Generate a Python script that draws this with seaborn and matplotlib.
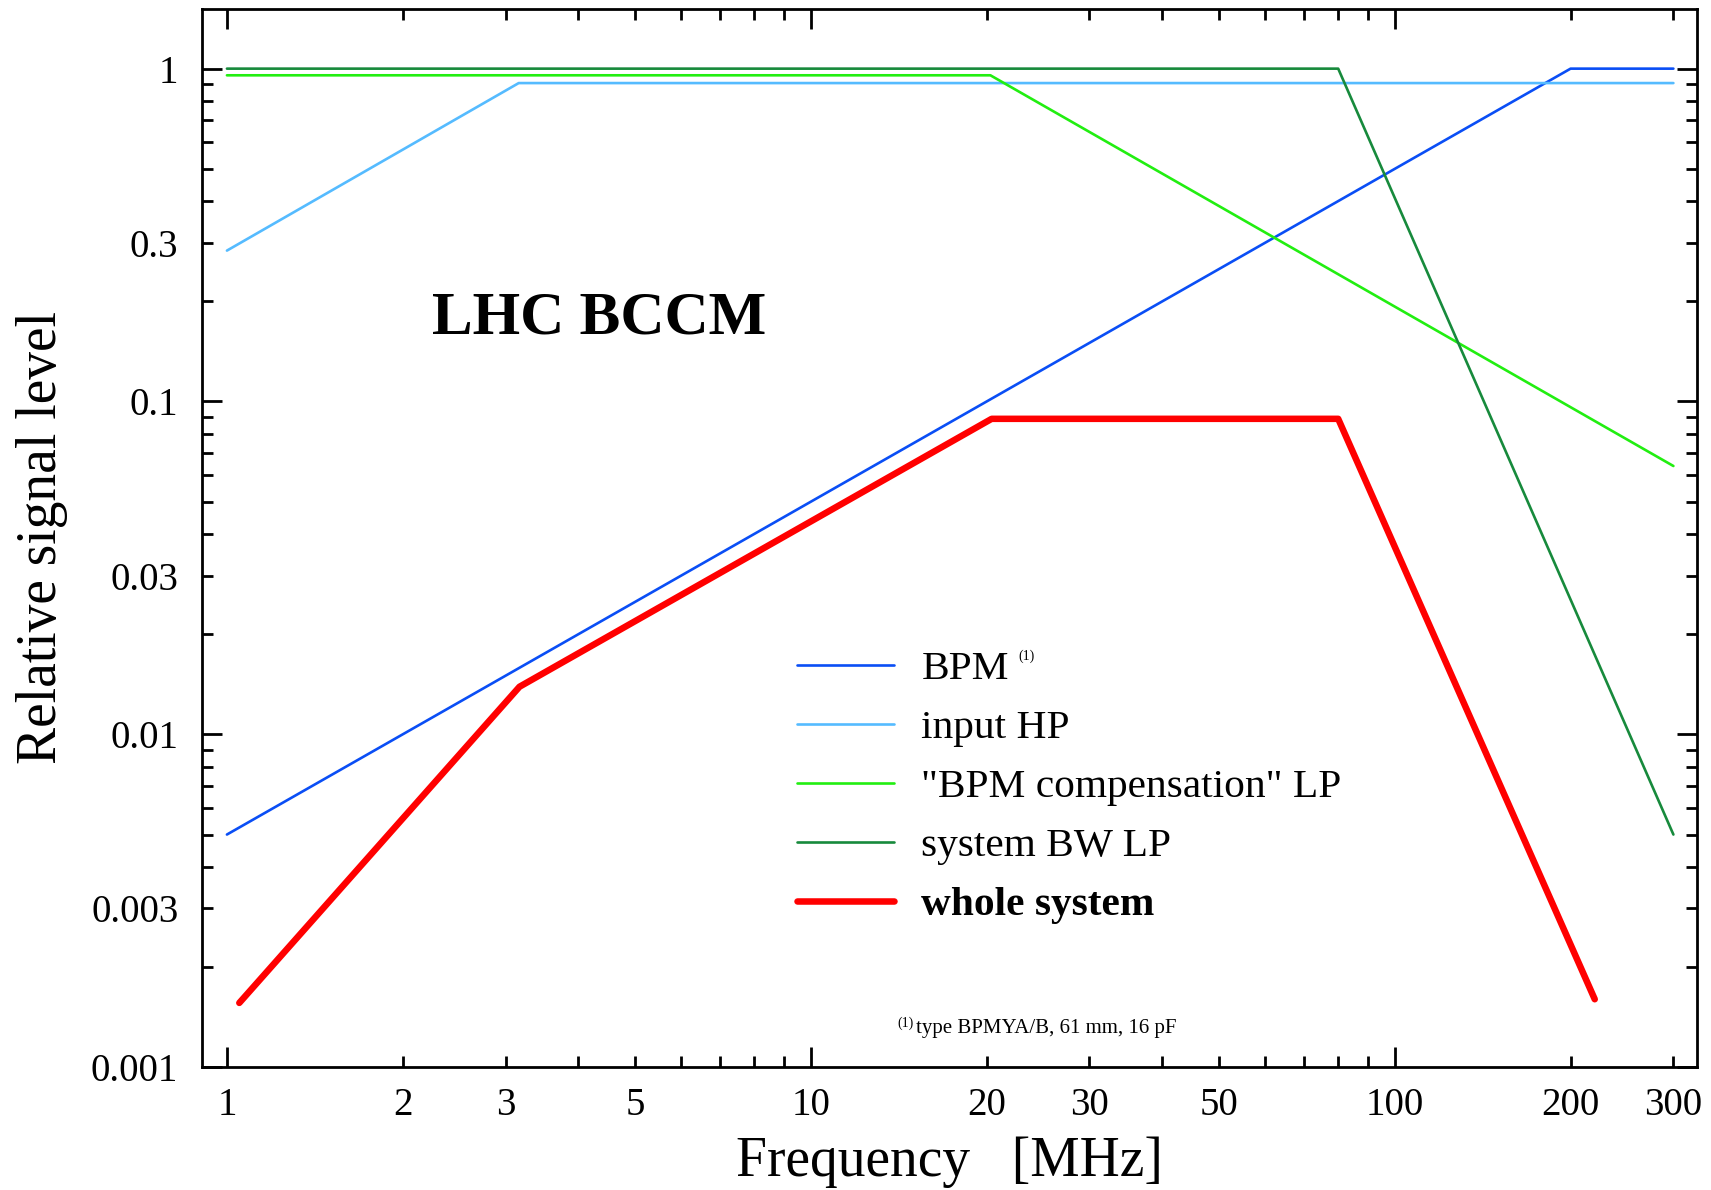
import matplotlib
matplotlib.use("Agg")
from matplotlib import pyplot as plt
import seaborn as sns
import pandas as pd

# data (frequency in MHz, relative level)
bpm_f = [1, 200, 300]
bpm_v = [0.005, 1.0, 1.0]

hp_f = [1, 3.16, 300]
hp_v = [0.284, 0.905, 0.905]

comp_f = [1, 20.3, 300]
comp_v = [0.955, 0.955, 0.064]

sysbw_f = [1, 80, 300]
sysbw_v = [1.0, 1.0, 0.005]

whole_f = [1.05, 3.17, 20.4, 80, 220]
whole_v = [0.00156, 0.0139, 0.0887, 0.0887, 0.0016]

labels = ["BPM", "input HP", '"BPM compensation" LP', "system BW LP", "whole system"]
colors = ["#0a4ef5", "#55bbff", "#22ee11", "#178a3c", "#ff0000"]
widths = [1.9, 1.9, 1.9, 1.9, 4.7]

x_ticklabels = ["1", "2", "3", "5", "10", "20", "30", "50", "100", "200", "300"]
y_ticklabels = ["0.001", "0.003", "0.01", "0.03", "0.1", "0.3", "1"]

sns.set_style("ticks")
plt.rcParams["font.family"] = ["Liberation Serif", "DejaVu Serif"]
plt.rcParams.update({"text.color": "black", "axes.labelcolor": "black",
                     "xtick.color": "black", "ytick.color": "black"})

fig = plt.figure(figsize=(17.11, 11.9), dpi=100)
ax = fig.add_axes([0.118, 0.1032, 0.8737, 0.8895])

series = [(bpm_f, bpm_v), (hp_f, hp_v), (comp_f, comp_v), (sysbw_f, sysbw_v), (whole_f, whole_v)]
for (f, v), lab, col, lw in zip(series, labels, colors, widths):
    df = pd.DataFrame({"Frequency": f, "Level": v})
    sns.lineplot(data=df, x="Frequency", y="Level", color=col, linewidth=lw,
                 label=lab, ax=ax, estimator=None, solid_capstyle="round")

ax.set_xscale("log")
ax.set_yscale("log")
ax.set_xlim(0.906, 329)
ax.set_ylim(0.001, 1.514)

# ticks: decades long, subdivisions short, labels on some of both
ax.set_xticks([1, 10, 100], labels=["1", "10", "100"])
xminor = [m * d for d in (1, 10, 100) for m in range(2, 10) if m * d <= 300]
xminor_lab = [str(int(t)) if str(int(t)) in x_ticklabels else "" for t in xminor]
ax.set_xticks(xminor, labels=xminor_lab, minor=True)

ax.set_yticks([0.001, 0.01, 0.1, 1], labels=["0.001", "0.01", "0.1", "1"])
yminor = [m * d for d in (0.001, 0.01, 0.1) for m in range(2, 10)]
yminor_lab = []
for t in yminor:
    s = f"{t:.3f}".rstrip("0")
    yminor_lab.append(s if s in y_ticklabels else "")
ax.set_yticks(yminor, labels=yminor_lab, minor=True)

ax.tick_params(which="both", direction="in", top=True, right=True, colors="black",
               width=2, labelsize=28)
ax.tick_params(which="major", length=14.5)
ax.tick_params(which="minor", length=8)
ax.tick_params(axis="x", which="both", pad=14)
ax.tick_params(axis="y", which="both", pad=17)
for sp in ax.spines.values():
    sp.set_linewidth(2)
    sp.set_color("black")

ax.set_xlabel("Frequency   [MHz]", fontsize=40)
ax.xaxis.label.set_va("baseline")
ax.xaxis.set_label_coords(0.5, -0.1028)
ax.set_ylabel("Relative signal level", fontsize=40)
ax.yaxis.label.set_va("center")
ax.yaxis.set_label_coords(-0.107, 0.5)

ax.text(0.1537, 0.6936, "LHC BCCM", transform=ax.transAxes, fontsize=44,
        fontweight="bold", va="baseline", ha="left")

leg = ax.legend(loc="upper left", bbox_to_anchor=(0.398, 0.394), frameon=False,
                fontsize=29.8, handlelength=2.35, handletextpad=0.66,
                labelspacing=0.51, borderaxespad=0, borderpad=0)
leg.get_texts()[4].set_fontweight("bold")

# superscript note mark after the BPM entry
fig.canvas.draw()
bb = leg.get_texts()[0].get_window_extent()
fig.text(bb.x1 + 9, bb.y1 + 2, "(1)", fontsize=10, transform=None, va="top")

fig.text(0.5243, 0.1375, "(1)", fontsize=10, va="baseline")
fig.text(0.5355, 0.132, "type BPMYA/B, 61 mm, 16 pF", fontsize=15, va="baseline")

fig.savefig("out.png", dpi=100)
